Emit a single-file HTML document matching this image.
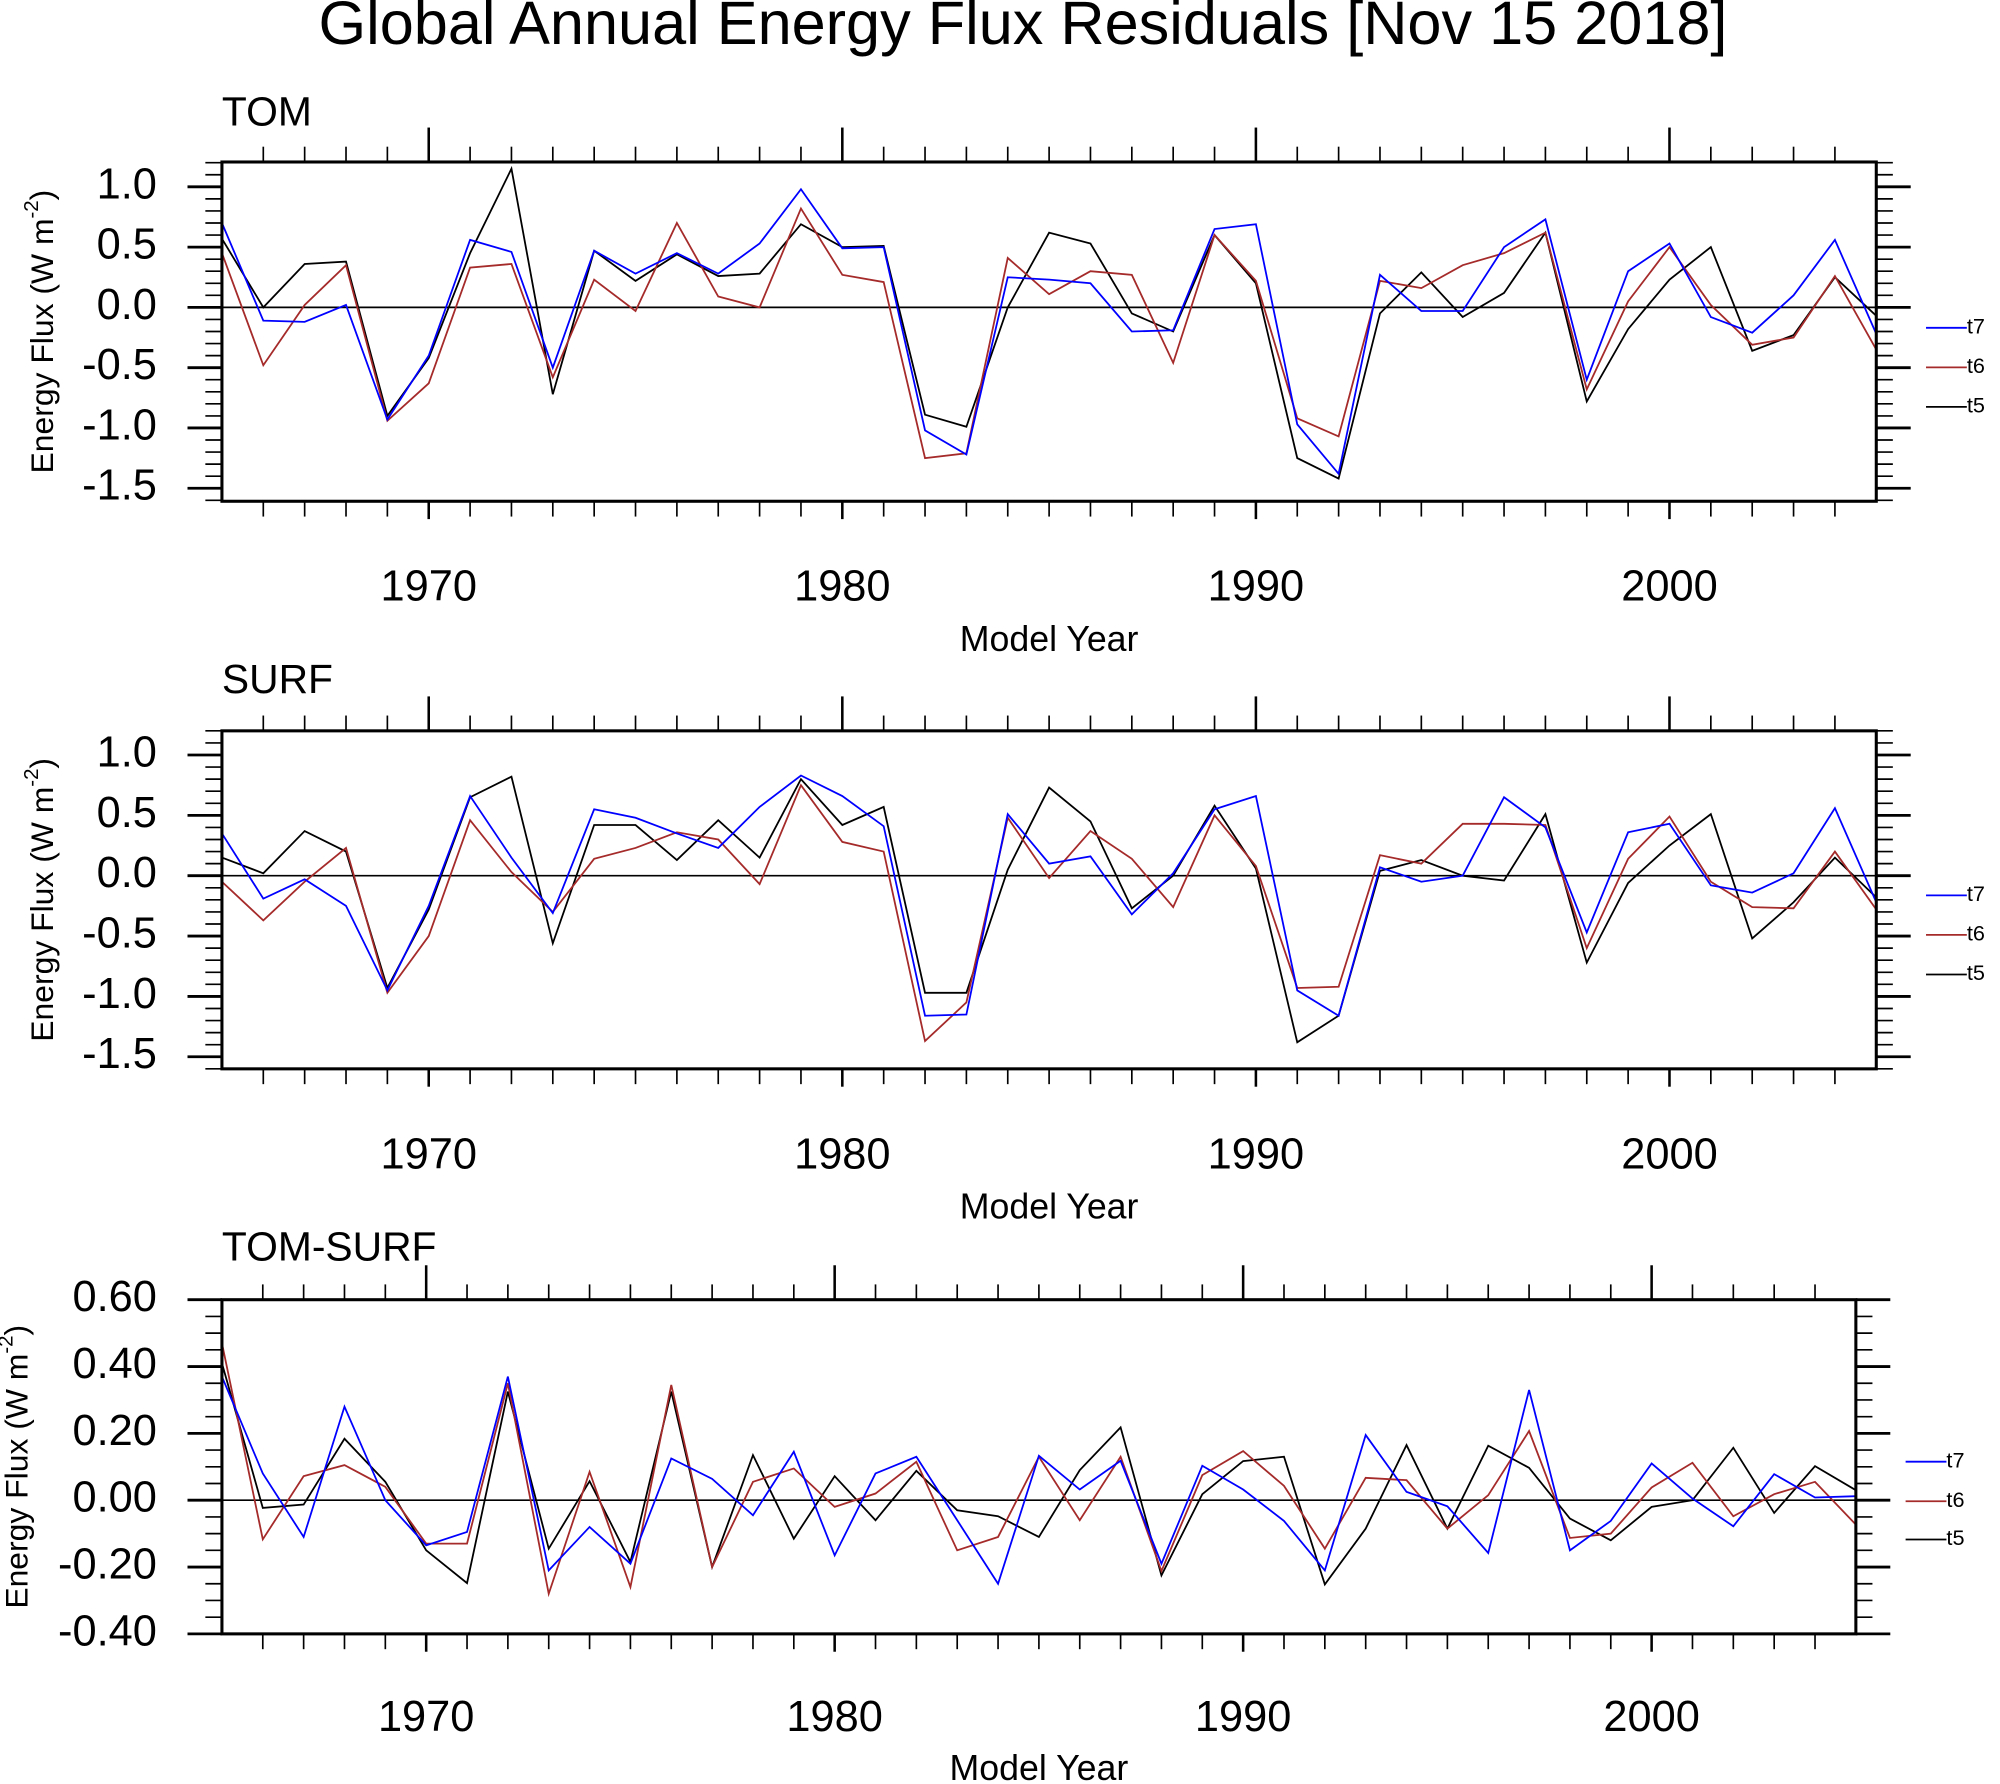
<!DOCTYPE html>
<html><head><meta charset="utf-8"><style>
html,body{margin:0;padding:0;background:#fff;}
svg{display:block;font-family:"Liberation Sans",sans-serif;}
</style></head><body>
<svg id="chart" width="2000" height="1784" viewBox="0 0 1568 1398.7" preserveAspectRatio="none" xmlns="http://www.w3.org/2000/svg">
<text x="802" y="22" font-size="48" text-anchor="middle" dominant-baseline="middle">Global Annual Energy Flux Residuals [Nov 15 2018]</text>
</svg>
<script>
const years = [];
for (let y = 1965; y <= 2005; y++) years.push(y);
const seriesNames = ["t7", "t6", "t5"];
const seriesColors = ["#0000ff", "#a52a2a", "#000000"];

const tomT7 = [0.7,-0.11,-0.12,0.02,-0.93,-0.4,0.56,0.46,-0.5,0.47,0.28,0.45,0.28,0.53,0.98,0.49,0.5,-1.02,-1.22,0.25,0.23,0.2,-0.2,-0.19,0.65,0.69,-0.97,-1.38,0.27,-0.03,-0.03,0.5,0.73,-0.6,0.3,0.53,-0.08,-0.21,0.1,0.56,-0.22];
const tomT6 = [0.45,-0.48,0.02,0.35,-0.94,-0.63,0.33,0.36,-0.58,0.23,-0.03,0.7,0.09,0.0,0.82,0.27,0.21,-1.25,-1.21,0.41,0.11,0.3,0.27,-0.46,0.6,0.22,-0.92,-1.07,0.22,0.16,0.35,0.45,0.62,-0.68,0.05,0.5,0.02,-0.31,-0.25,0.26,-0.35];
const tomT5 = [0.57,0.0,0.36,0.38,-0.9,-0.42,0.45,1.15,-0.72,0.47,0.22,0.44,0.26,0.28,0.69,0.5,0.51,-0.89,-0.99,0.0,0.62,0.53,-0.05,-0.2,0.6,0.2,-1.25,-1.42,-0.05,0.29,-0.08,0.12,0.62,-0.78,-0.18,0.23,0.5,-0.36,-0.23,0.25,-0.07];

const surfT7 = [0.35,-0.19,-0.03,-0.25,-0.95,-0.25,0.66,0.15,-0.31,0.55,0.48,0.35,0.23,0.57,0.83,0.66,0.41,-1.16,-1.15,0.51,0.1,0.16,-0.32,0.02,0.55,0.66,-0.95,-1.16,0.07,-0.05,0.0,0.65,0.4,-0.47,0.36,0.43,-0.08,-0.14,0.02,0.56,-0.22];
const surfT6 = [-0.05,-0.37,-0.05,0.23,-0.97,-0.5,0.46,0.03,-0.3,0.14,0.23,0.36,0.3,-0.07,0.75,0.28,0.2,-1.37,-1.05,0.48,-0.02,0.37,0.14,-0.26,0.5,0.08,-0.93,-0.92,0.17,0.1,0.43,0.43,0.42,-0.6,0.14,0.49,-0.05,-0.26,-0.27,0.2,-0.28];
const surfT5 = [0.15,0.02,0.37,0.2,-0.93,-0.28,0.65,0.82,-0.56,0.42,0.42,0.13,0.46,0.15,0.8,0.42,0.57,-0.97,-0.97,0.05,0.73,0.45,-0.27,0.0,0.58,0.06,-1.38,-1.16,0.04,0.13,0.0,-0.04,0.51,-0.72,-0.06,0.25,0.51,-0.52,-0.22,0.15,-0.18];

const diffT7 = [0.37,0.08,-0.11,0.28,0.0,-0.135,-0.095,0.37,-0.21,-0.08,-0.19,0.125,0.064,-0.045,0.145,-0.165,0.08,0.13,-0.06,-0.25,0.133,0.032,0.118,-0.19,0.103,0.032,-0.062,-0.21,0.195,0.025,-0.018,-0.158,0.33,-0.15,-0.062,0.11,0.005,-0.078,0.078,0.008,0.012];
const diffT6 = [0.47,-0.117,0.072,0.105,0.04,-0.13,-0.13,0.35,-0.28,0.085,-0.26,0.345,-0.2,0.055,0.095,-0.02,0.02,0.115,-0.15,-0.11,0.13,-0.06,0.13,-0.212,0.075,0.147,0.043,-0.145,0.067,0.06,-0.085,0.015,0.207,-0.113,-0.1,0.038,0.112,-0.048,0.018,0.055,-0.073];
const diffT5 = [0.41,-0.023,-0.013,0.184,0.055,-0.15,-0.248,0.325,-0.145,0.057,-0.185,0.325,-0.2,0.135,-0.115,0.072,-0.06,0.088,-0.03,-0.048,-0.11,0.09,0.218,-0.225,0.018,0.117,0.13,-0.252,-0.085,0.165,-0.085,0.163,0.097,-0.055,-0.12,-0.02,0.0,0.157,-0.038,0.102,0.03];

const xTickLabels = [1970, 1980, 1990, 2000];
const yTicksTS = [1.0, 0.5, 0.0, -0.5, -1.0, -1.5];
const yTickLabelsTS = ["1.0","0.5","0.0","-0.5","-1.0","-1.5"];
const yTicksDiff = [0.6, 0.4, 0.2, 0.0, -0.2, -0.4];
const yTickLabelsDiff = ["0.60","0.40","0.20","0.00","-0.20","-0.40"];

const NS = "http://www.w3.org/2000/svg";
const svg = document.getElementById("chart");
function mk(tag, attrs, parent) {
  const e = document.createElementNS(NS, tag);
  for (const k in attrs) e.setAttribute(k, attrs[k]);
  (parent || svg).appendChild(e);
  return e;
}

const panels = [
  {key:"tom", label:"TOM", left:174, right:1471, top:127, bottom:393, vmax:1.206, vmin:-1.608, ticks:yTicksTS, tickLabels:yTickLabelsTS, minor:0.1, data:[tomT7,tomT6,tomT5], labelX:174, labelY:90, xlabY:462, titleY:503, legX:1510, legY:[257,288,319], yTitleX:35},
  {key:"surf", label:"SURF", left:174, right:1471, top:573, bottom:838, vmax:1.2, vmin:-1.6, ticks:yTicksTS, tickLabels:yTickLabelsTS, minor:0.1, data:[surfT7,surfT6,surfT5], labelX:174, labelY:535, xlabY:907, titleY:948, legX:1510, legY:[702,733,764], yTitleX:35},
  {key:"tom-surf", label:"TOM-SURF", left:174, right:1455, top:1019, bottom:1281, vmax:0.6, vmin:-0.4, ticks:yTicksDiff, tickLabels:yTickLabelsDiff, minor:0.05, data:[diffT7,diffT6,diffT5], labelX:174, labelY:980, xlabY:1348, titleY:1388, legX:1494, legY:[1146,1177,1207], yTitleX:15}
];

panels.forEach(p => {
  const g = mk("g", {});
  
  
  const x = yr => p.left + (yr - 1965) / 40 * (p.right - p.left);
  const y = v => p.top + (p.vmax - v) / (p.vmax - p.vmin) * (p.bottom - p.top);

  for (let yr = 1966; yr <= 2004; yr++) {
    const major = yr % 10 === 0;
    const xx = x(yr);
    const t1 = mk("line", {x1:xx, x2:xx, y1:p.top, y2:p.top - (major ? 27 : 12), stroke:"#000", "stroke-width": major ? 2 : 1.3}, g);
    
    
    const t2 = mk("line", {x1:xx, x2:xx, y1:p.bottom, y2:p.bottom + (major ? 14 : 12), stroke:"#000", "stroke-width": major ? 2 : 1.3}, g);
    
    
  }
  xTickLabels.forEach(yr => {
    const t = mk("text", {x:x(yr), y:p.xlabY, "font-size":34, "text-anchor":"middle", "dominant-baseline":"middle"}, g);
    t.textContent = yr;
    
    
  });
  const xt = mk("text", {x:(p.left + p.right) / 2, y:p.titleY, "font-size":28, "text-anchor":"middle", "dominant-baseline":"middle"}, g);
  xt.textContent = "Model Year";
  
  

  const start = Math.ceil(p.vmin / p.minor - 1e-6);
  for (let i = start; i * p.minor <= p.vmax + 1e-6; i++) {
    const v = i * p.minor;
    const major = p.ticks.some(t => Math.abs(t - v) < 1e-6);
    const yy = y(v);
    const len = major ? 27 : 13;
    const l1 = mk("line", {x1:p.left, x2:p.left - len, y1:yy, y2:yy, stroke:"#000", "stroke-width": major ? 2.2 : 1.3}, g);
    
    
    const l2 = mk("line", {x1:p.right, x2:p.right + len, y1:yy, y2:yy, stroke:"#000", "stroke-width": major ? 2.2 : 1.3}, g);
    
    
  }
  p.ticks.forEach((v, i) => {
    const t = mk("text", {x:123, y:y(v), "font-size":34, "text-anchor":"end", "dominant-baseline":"middle"}, g);
    t.textContent = p.tickLabels[i];
    
    
  });
  const cy = (p.top + p.bottom) / 2;
  const yt = mk("text", {x:0, y:0, "font-size":25, "text-anchor":"middle", "dominant-baseline":"middle", transform:`translate(${p.yTitleX},${cy}) rotate(-90)`}, g);
  yt.innerHTML = 'Energy Flux (W m<tspan font-size="16" dy="-9">-2</tspan><tspan dy="9">)</tspan>';
  
  

  const pl = mk("text", {x:p.labelX, y:p.labelY, "font-size":32, "dominant-baseline":"middle"}, g);
  pl.textContent = p.label;
  
  

  const z = mk("line", {x1:p.left, x2:p.right, y1:y(0), y2:y(0), stroke:"#000", "stroke-width":1.3}, g);
  
  

  [2,1,0].forEach(si => {
    const pts = p.data[si].map((v, i) => x(years[i]).toFixed(2) + "," + y(v).toFixed(2)).join(" ");
    const pl2 = mk("polyline", {points:pts, fill:"none", stroke:seriesColors[si], "stroke-width":1.4, "stroke-linejoin":"miter"}, g);
    
    
  });

  const fr = mk("rect", {x:p.left, y:p.top, width:p.right - p.left, height:p.bottom - p.top, fill:"none", stroke:"#000", "stroke-width":2.4}, g);
  
  

  seriesNames.forEach((n, i) => {
    const ly = p.legY[i];
    const ll = mk("line", {x1:p.legX, x2:p.legX + 32, y1:ly, y2:ly, stroke:seriesColors[i], "stroke-width":1.4}, g);
    
    
    const lt = mk("text", {x:p.legX + 32, y:ly, "font-size":17, "dominant-baseline":"middle"}, g);
    lt.textContent = n;
    
    
  });
});
</script>
</body></html>
